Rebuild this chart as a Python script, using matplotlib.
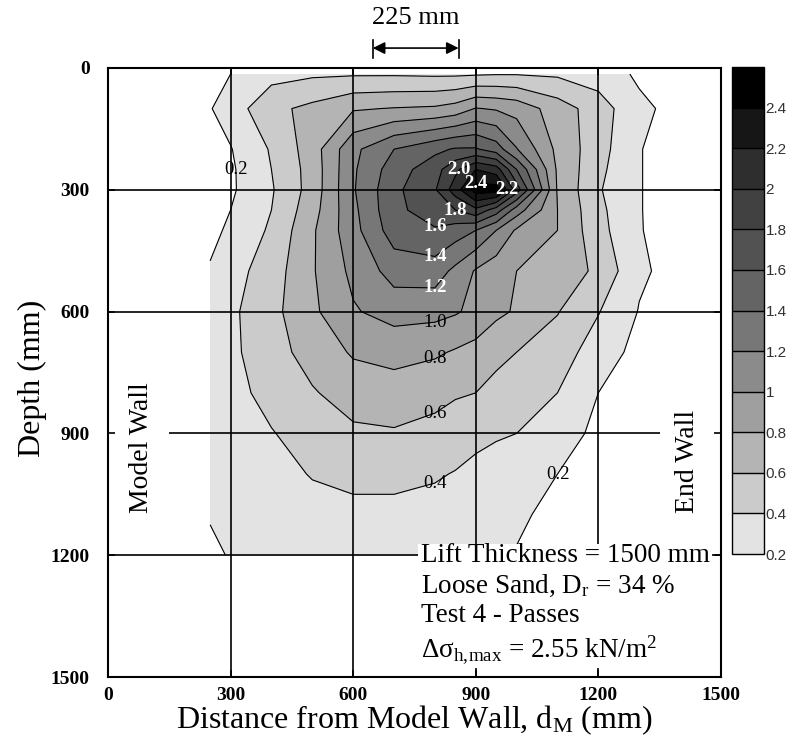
import matplotlib
matplotlib.use('Agg')
import matplotlib.pyplot as plt
import numpy as np

plt.rcParams['font.family'] = ['Liberation Serif', 'DejaVu Serif']
plt.rcParams['mathtext.default'] = 'regular'

dist_mm = [250, 300, 400, 500, 600, 700, 800, 850, 900, 950, 1000, 1100, 1200, 1300, 1350]
depth_mm = [15, 100, 200, 250, 300, 350, 400, 500, 600, 700, 800, 900, 1000, 1100, 1200]
stress = [
    [0.12, 0.20, 0.33, 0.37, 0.38, 0.38, 0.37, 0.37, 0.38, 0.39, 0.39, 0.37, 0.30, 0.17, 0.12],
    [0.19, 0.29, 0.55, 0.65, 0.78, 0.81, 0.83, 0.88, 1.01, 0.98, 0.93, 0.70, 0.50, 0.24, 0.19],
    [0.12, 0.19, 0.42, 0.70, 1.15, 1.40, 1.55, 1.62, 1.62, 1.50, 1.21, 0.75, 0.48, 0.21, 0.15],
    [0.10, 0.17, 0.40, 0.68, 1.17, 1.50, 1.72, 1.95, 2.20, 2.10, 1.60, 0.77, 0.45, 0.21, 0.15],
    [0.10, 0.17, 0.38, 0.68, 1.18, 1.55, 1.78, 2.10, 2.50, 2.50, 1.90, 0.78, 0.42, 0.21, 0.15],
    [0.12, 0.20, 0.40, 0.72, 1.15, 1.55, 1.70, 1.80, 1.95, 1.70, 1.30, 0.80, 0.45, 0.21, 0.15],
    [0.14, 0.24, 0.43, 0.77, 1.13, 1.50, 1.58, 1.50, 1.40, 1.20, 0.97, 0.80, 0.47, 0.21, 0.16],
    [0.22, 0.32, 0.50, 0.78, 1.05, 1.28, 1.30, 1.15, 0.98, 0.88, 0.80, 0.72, 0.56, 0.23, 0.18],
    [0.28, 0.36, 0.54, 0.76, 0.98, 1.08, 1.06, 1.02, 0.95, 0.84, 0.78, 0.61, 0.41, 0.19, 0.14],
    [0.32, 0.36, 0.51, 0.69, 0.82, 0.86, 0.83, 0.78, 0.73, 0.66, 0.60, 0.50, 0.30, 0.14, 0.10],
    [0.33, 0.34, 0.46, 0.58, 0.70, 0.72, 0.65, 0.62, 0.60, 0.53, 0.50, 0.40, 0.20, 0.10, 0.08],
    [0.30, 0.32, 0.39, 0.48, 0.56, 0.58, 0.55, 0.50, 0.45, 0.42, 0.40, 0.30, 0.15, 0.08, 0.06],
    [0.26, 0.28, 0.34, 0.41, 0.45, 0.45, 0.42, 0.39, 0.35, 0.32, 0.29, 0.20, 0.10, 0.05, 0.04],
    [0.21, 0.25, 0.30, 0.34, 0.35, 0.35, 0.33, 0.30, 0.28, 0.25, 0.23, 0.15, 0.08, 0.04, 0.03],
    [0.17, 0.21, 0.26, 0.29, 0.30, 0.30, 0.27, 0.25, 0.23, 0.20, 0.19, 0.12, 0.06, 0.03, 0.02],
]
levels = [0.2, 0.4, 0.6, 0.8, 1.0, 1.2, 1.4, 1.6, 1.8, 2.0, 2.2, 2.4, 2.6]
band_colors = ['#e3e3e3', '#cbcbcb', '#b4b4b4', '#9f9f9f', '#8b8b8b', '#777777',
               '#646464', '#525252', '#414141', '#2e2e2e', '#161616', '#000000']
axis_ticks = [0, 300, 600, 900, 1200, 1500]

# contour labels: (level index, near x, near depth, colour)
label_spots = [
    (0, 316, 254, 'black'), (0, 1099, 1022, 'black'),
    (1, 753, 1034, 'black'), (2, 753, 874, 'black'),
    (3, 753, 729, 'black'), (4, 753, 633, 'black'),
    (5, 758, 547, 'white'), (6, 758, 465, 'white'),
    (7, 763, 394, 'white'), (8, 844, 333, 'white'),
    (9, 856, 231, 'white'), (11, 918, 262, 'white'),
    (10, 967, 313, 'white'),
]

fig = plt.figure(figsize=(7.95, 7.51), dpi=100)
ax = fig.add_axes([0.1358, 0.0985, 0.7711, 0.811])
cax = fig.add_axes([0.9208, 0.2623, 0.0403, 0.6485])

X, Y = np.meshgrid(dist_mm, depth_mm)
Z = np.array(stress)

cf = ax.contourf(X, Y, Z, levels=levels, colors=band_colors, zorder=1)
cs = ax.contour(X, Y, Z, levels=levels[:-1], colors='black', linewidths=0.8, zorder=2)

# put each label on the nearest point of its own contour line
for idx, lx, ly, col in label_spots:
    segs = [s for s in cs.allsegs[idx] if len(s)]
    pts = np.vstack(segs)
    k = np.argmin((pts[:, 0] - lx) ** 2 + (pts[:, 1] - ly) ** 2)
    ax.text(pts[k, 0], pts[k, 1], '%.1f' % levels[idx], color=col, fontsize=13.5,
            fontweight='bold' if col == 'white' else 'normal',
            ha='center', va='center', zorder=6)

# grid lines
for v in [300, 600, 900, 1200]:
    ax.axvline(v, color='black', lw=1.2, zorder=3)
for h in [300, 600, 1200]:
    ax.axhline(h, color='black', lw=1.2, zorder=3)
ax.hlines(900, 150, 1350, color='black', lw=1.2, zorder=3)

ax.set_xlim(0, 1500)
ax.set_ylim(1500, 0)
ax.set_xticks(axis_ticks)
ax.set_yticks(axis_ticks)
ax.tick_params(direction='in', length=5, width=1.2, top=True, right=True,
               labelsize=14, pad=7)
ax.tick_params(axis='y', pad=13)
for lab in ax.get_xticklabels() + ax.get_yticklabels():
    lab.set_fontweight('bold')
for sp in ax.spines.values():
    sp.set_linewidth(1.5)

ax.set_xlabel('Distance from Model Wall, d$_M$ (mm)', fontsize=23, labelpad=0)
ax.set_ylabel('Depth (mm)', fontsize=23)
ax.yaxis.set_label_coords(-0.1, 0.49)

ax.text(83, 935, 'Model Wall', rotation=90, ha='center', va='center', fontsize=20)
ax.text(1419, 968, 'End Wall', rotation=90, ha='center', va='center', fontsize=20)

info = ('Lift Thickness = 1500 mm\n'
        'Loose Sand, D$_r$ = 34 %\n'
        'Test 4 - Passes\n'
        'Δσ$_{h,\\!max}$ = 2.55 kN/m$^2$')
ax.text(765, 1170, info, ha='left', va='top', fontsize=19.5, linespacing=1.22,
        zorder=7, bbox=dict(boxstyle='square,pad=0.1', facecolor='white', edgecolor='none'))

# 225 mm spacing marker above the plot
ax.annotate('', xy=(648, -49), xytext=(858, -49), annotation_clip=False,
            arrowprops=dict(arrowstyle='<|-|>', color='black', lw=1.2,
                            mutation_scale=18, shrinkA=0, shrinkB=0))
for bx in [648, 858]:
    ax.plot([bx, bx], [-70, -25], color='black', lw=1.2, clip_on=False)
ax.text(753, -123, '225 mm', ha='center', va='center', fontsize=19)

cb = fig.colorbar(cf, cax=cax, ticks=levels[:-1], drawedges=True, format='%g')
cb.outline.set_linewidth(1.0)
cb.dividers.set_linewidth(1.0)
cb.dividers.set_color('black')
cb.ax.tick_params(length=0, pad=1, labelsize=11, labelcolor='#333333')
for lab in cb.ax.get_yticklabels():
    lab.set_fontfamily('Liberation Sans')

fig.savefig('out.png', dpi=100, facecolor='white')
